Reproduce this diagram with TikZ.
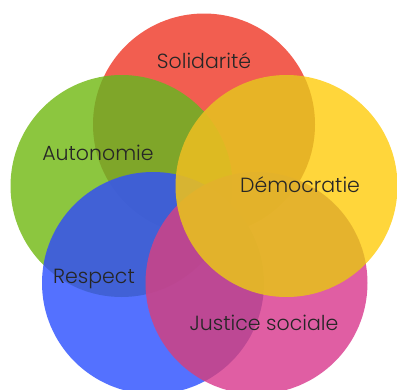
\documentclass[tikz,border=0pt]{standalone}
\usepackage{fontspec}
\setmainfont{Poppins}[UprightFont=* Light]
\definecolor{cSol}{RGB}{241,77,61}
\definecolor{cAuto}{RGB}{128,192,42}
\definecolor{cDemo}{RGB}{255,209,38}
\definecolor{cResp}{RGB}{65,98,255}
\definecolor{cJust}{RGB}{221,76,153}
\tikzset{
  disc/.style={fill opacity=0.9},
  dim/.style={fill=black, fill opacity=0.085},
  word/.style={text=black!85, font=\fontsize{20.5}{24}\selectfont}
}
\begin{document}
\begin{tikzpicture}[x=1pt, y=-1pt]
    \useasboundingbox (0,0) rectangle (397,389);
    \clip (0,0) rectangle (397,389);

    \coordinate (sol) at (204,124.5);
    \coordinate (aut) at (121.5,186);
    \coordinate (res) at (153,283);
    \coordinate (jus) at (256.5,283);
    \coordinate (dem) at (286.5,186);

    % discs, each one darkens what lies under it
    \fill[disc, cSol] (sol) circle (111);

    \fill[disc, cAuto] (aut) circle (111);
    \begin{scope}
      \clip (aut) circle (111);
      \fill[dim] (sol) circle (111);
    \end{scope}

    \fill[disc, cResp] (res) circle (111);
    \begin{scope}
      \clip (res) circle (111);
      \fill[dim] (sol) circle (111) (aut) circle (111);
    \end{scope}

    \fill[disc, cJust] (jus) circle (111);
    \begin{scope}
      \clip (jus) circle (111);
      \fill[dim] (sol) circle (111) (aut) circle (111) (res) circle (111);
    \end{scope}

    \fill[disc, cDemo] (dem) circle (111);
    \begin{scope}
      \clip (dem) circle (111);
      \fill[dim] (sol) circle (111) (aut) circle (111) (res) circle (111)
      (jus) circle (111);
    \end{scope}

    \path
    (204,61) node[word] (1) {Solidarité}
    (98,153) node[word] (2) {Autonomie}
    (300,185) node[word] (3) {Démocratie}
    (94,279) node[word] (4) {Respect}
    (264,323) node[word] (5) {Justice sociale};
  \end{tikzpicture}
\end{document}
